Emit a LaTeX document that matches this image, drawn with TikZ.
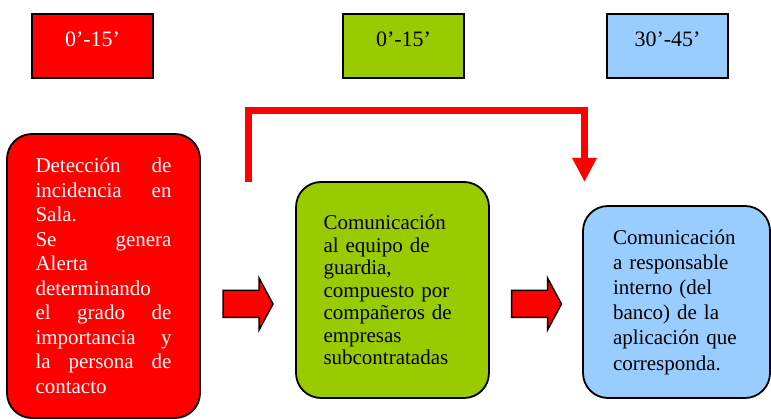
\documentclass[tikz,border=0pt]{standalone}
\usepackage{fontspec}
\setmainfont{Liberation Serif}
\usetikzlibrary{arrows.meta}
\definecolor{cred}{HTML}{FF0000}
\definecolor{cgreen}{HTML}{99CC00}
\definecolor{cblue}{HTML}{99CCFF}
\tikzset{
  timebox/.style={draw=black, line width=2pt, minimum width=121pt, inner sep=0pt,
    text height=33pt, text depth=31pt, font=\fontsize{22}{26}\selectfont},
  stepbox/.style={draw=black, line width=1.8pt, rounded corners=25pt, inner sep=0pt},
  blockarrow/.style={fill=cred, draw=black, line width=1.5pt, line join=miter},
  bendarrow/.style={draw=cred, line width=7pt, line join=miter,
    -{Triangle[length=24pt,width=23pt]}},
  blockarr/.pic={
    \draw[blockarrow] (-25,-13.5) -- (11,-13.5) -- (11,-26) -- (25,0)
      -- (11,26) -- (11,13.5) -- (-25,13.5) -- cycle;
  }
}
\begin{document}
\begin{tikzpicture}[x=1pt,y=-1pt]
\useasboundingbox (0,0) rectangle (771,419);

% time boxes
\node[timebox, fill=cred, text=white] (t1) at (92.5,46) {0’-15’};
\node[timebox, fill=cgreen] (t2) at (403.5,46) {0’-15’};
\node[timebox, fill=cblue] (t3) at (667.5,46) {30’-45’};

% step boxes
\node[stepbox, fill=cred, text=white, minimum width=193pt, minimum height=284pt,
  text width=136pt, align=justify, font=\fontsize{21}{24.5}\selectfont]
  (detect) at (103.5,276) {%
  Detección\hfill de\\
  incidencia\hfill en\\
  Sala.\\
  Se\hfill genera\\
  Alerta\\
  determinando\\
  el\hfill grado\hfill de\\
  importancia\hfill y\\
  la\hfill persona\hfill de\\
  contacto};

\node[stepbox, fill=cgreen, minimum width=193pt, minimum height=216pt,
  text width=138pt, align=left, font=\fontsize{21}{22.5}\selectfont]
  (guard) at (392.5,290) {%
  Comunicación\\
  al equipo de\\
  guardia,\\
  compuesto por\\
  compañeros de\\
  empresas\\
  subcontratadas};

\node[stepbox, fill=cblue, minimum width=187pt, minimum height=192pt,
  text width=127pt, align=left, font=\fontsize{21}{25.2}\selectfont]
  (resp) at (676.5,302) {%
  Comunicación\\
  a responsable\\
  interno (del\\
  banco) de la\\
  aplicación que\\
  corresponda.};

% block arrows
\pic at (248,304) {blockarr};
\pic at (536.5,304) {blockarr};

% bent connector
\coordinate (bstart) at (248,182);
\coordinate (bend) at (584.5,182);
\draw[bendarrow] (bstart) -- (248,111) -- (584.5,111) -- (bend);
\end{tikzpicture}
\end{document}
